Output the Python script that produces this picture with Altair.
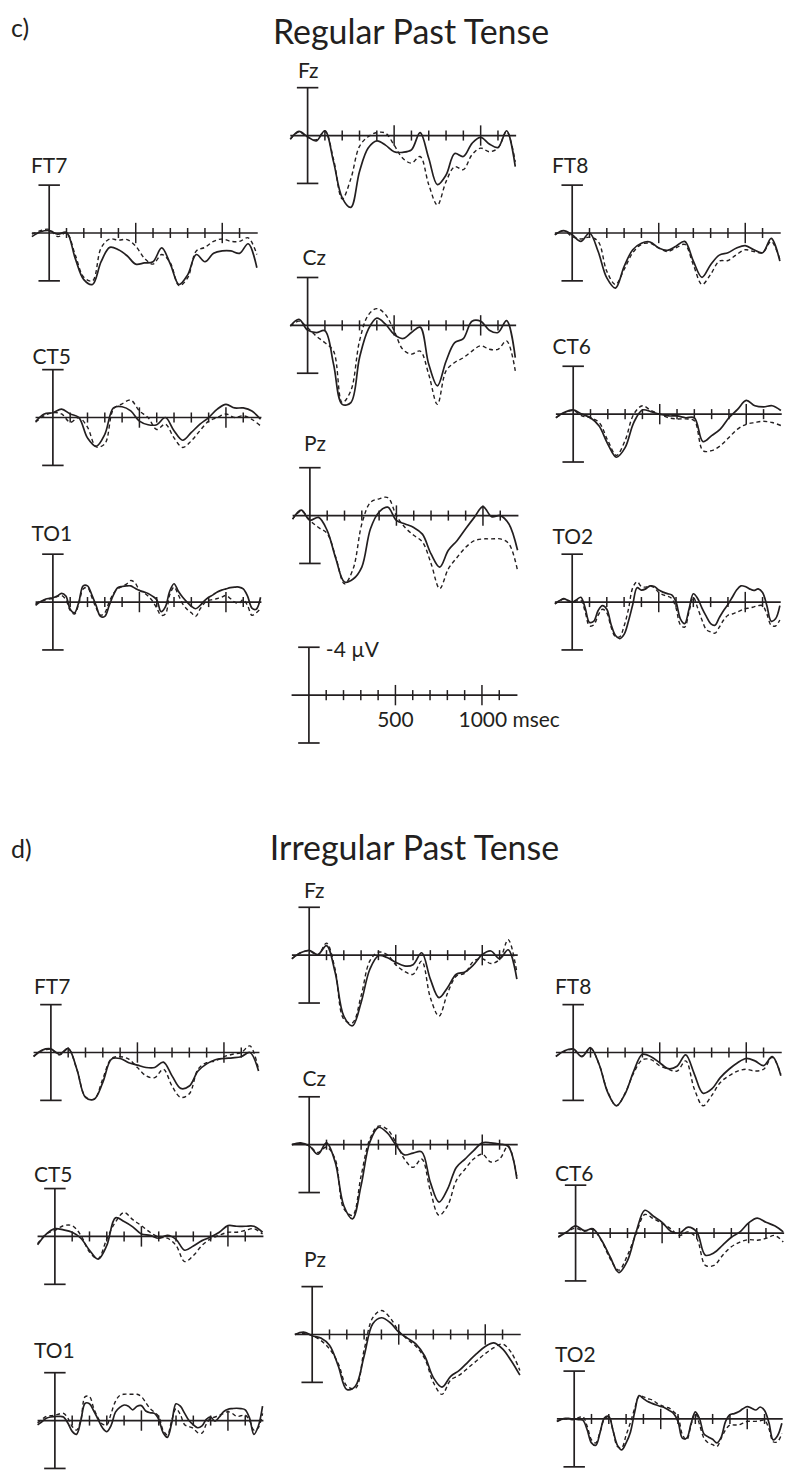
import altair as alt
import pandas as pd

# ---------------- data (µV, negative plotted upward) ----------------
TIMES = list(range(-100, 1201, 50))          # ms, 50-ms sample grid
TIMES_FINE = list(range(-100, 1201, 25))     # ms, 25-ms grid for the fast temporo-occipital channels
TICKS = list(range(100, 1101, 100))          # ms, axis ticks
MAJOR_TICKS = [500, 1000]

# c) Regular past tense  (A = solid line, B = dashed line)
REG_FZ_A = [0.3, -0.35, 0.1, 0.45, -0.4, 2.2, 5.2, 6.0, 3.0, 1.05, 0.45, 0.8, 1.35, 1.4, 1.2, -0.25, 1.9, 4.1, 3.3, 1.5, 1.75, 0.65, 0.15, 0.7, 1.0, -0.4, 2.6]
REG_FZ_B = [0.3, -0.3, 0.15, 0.35, -0.35, 2.0, 5.3, 3.6, 0.9, 0.1, -0.25, -0.2, 0.8, 1.9, 2.3, 1.75, 4.1, 5.8, 3.85, 2.6, 2.85, 1.6, 1.05, 1.35, 1.05, -0.35, 2.2]
REG_FT7_A = [0.3, -0.1, -0.2, 0.1, -0.05, 2.1, 3.9, 4.3, 2.4, 1.2, 1.4, 1.9, 2.6, 2.5, 2.4, 1.25, 2.6, 4.3, 3.5, 1.8, 2.4, 1.7, 1.5, 1.5, 1.7, 0.9, 2.9]
REG_FT7_B = [0.1, -0.2, -0.3, 0.3, 0.0, 1.8, 3.7, 4.0, 1.25, 0.5, 0.6, 0.55, 1.1, 2.1, 2.6, 1.8, 2.5, 4.4, 3.75, 1.5, 1.2, 0.7, 0.5, 0.7, 0.7, 0.4, 1.8]
REG_FT8_A = [0.15, -0.2, 0.15, 0.7, 0.0, 1.55, 3.75, 4.6, 2.8, 1.4, 0.85, 0.75, 1.25, 1.45, 1.1, 0.7, 2.35, 3.7, 2.65, 1.85, 1.65, 1.25, 1.05, 1.4, 1.65, 0.45, 2.35]
REG_FT8_B = [0.15, -0.2, 0.3, 0.5, 0.35, 0.7, 3.2, 4.3, 3.05, 1.65, 0.95, 0.85, 1.25, 1.55, 1.25, 0.95, 2.65, 4.3, 3.45, 2.35, 2.3, 1.8, 1.4, 1.55, 1.65, 0.7, 2.2]
REG_CZ_A = [0.05, -0.5, 0.4, 0.6, 0.45, 3.25, 6.6, 6.45, 2.7, 0.35, -0.6, -0.1, 0.75, 1.1, 0.6, 0.15, 3.25, 5.05, 3.0, 1.45, 1.1, -0.35, -0.35, 0.4, 0.6, -0.4, 2.7]
REG_CZ_B = [0.05, -0.35, 0.2, 0.9, 1.45, 2.15, 6.45, 5.45, 1.3, -0.85, -1.4, -0.9, 0.45, 2.0, 2.4, 2.15, 4.1, 6.6, 3.8, 3.1, 2.7, 2.15, 1.7, 2.0, 2.0, 1.3, 3.8]
REG_CT5_A = [0.33, -0.3, -0.4, -0.7, -0.3, 0.0, 1.7, 2.4, 1.4, -0.8, -0.9, -0.55, 0.3, 0.6, 0.6, 0.0, 1.1, 1.9, 1.25, 0.55, 0.0, -0.7, -1.1, -0.8, -0.8, -0.55, 0.15]
REG_CT5_B = [0.4, -0.15, -0.4, -0.3, 0.4, 0.0, 0.8, 2.45, 2.2, -0.7, -1.15, -1.45, -0.55, 0.0, 1.0, 0.55, 1.7, 2.5, 1.95, 1.1, 0.3, 0.0, -0.3, 0.0, -0.15, 0.15, 0.7]
REG_CT6_A = [0.3, -0.15, -0.35, 0.0, 0.3, 1.0, 2.5, 3.6, 2.8, 0.7, -0.35, -0.2, 0.0, 0.15, 0.15, 0.3, 0.3, 2.3, 1.8, 1.25, 0.3, -0.4, -1.15, -0.7, -0.6, -0.7, -0.3]
REG_CT6_B = [0.3, -0.1, -0.3, 0.15, 0.3, 0.7, 2.2, 3.45, 2.2, 0.0, -0.7, -0.3, 0.0, 0.3, 0.4, 0.4, 0.55, 3.05, 3.05, 2.65, 1.95, 1.25, 0.85, 0.7, 0.6, 0.7, 0.95]
REG_PZ_A = [0.3, -0.45, 0.4, 0.15, 1.25, 3.6, 5.55, 5.3, 4.3, 1.1, -0.3, -0.7, 0.4, 0.7, 1.0, 1.55, 3.2, 4.3, 2.9, 2.1, 1.1, 0.15, -0.75, 0.1, 0.0, 0.7, 2.9]
REG_PZ_B = [0.3, -0.4, 0.4, 1.0, 1.5, 3.5, 5.7, 4.45, 0.7, -1.1, -1.4, -1.5, 0.0, 1.0, 1.65, 2.2, 4.0, 6.1, 4.45, 3.5, 2.65, 2.1, 1.95, 1.95, 1.95, 2.35, 4.6]
# 25-ms grid
REG_TO1_A = [0.28, 0.0, -0.2, -0.3, -0.36, -0.5, -0.72, -0.5, 0.6, 0.9, 0.0, -1.35, -1.35, -0.6, 0.3, 1.2, 1.2, 0.3, -0.6, -1.2, -1.3, -1.35, -1.35, -1.15, -0.97, -0.85, -0.72, -0.5, -0.2, 0.8, 0.4, -0.9, -1.53, -0.9, -0.4, 0.0, 0.35, 0.56, 0.3, -0.1, -0.4, -0.6, -0.85, -1.0, -1.1, -1.2, -1.25, -1.25, -1.1, -0.5, 0.5, 0.6, -0.4]
REG_TO1_B = [0.15, -0.05, -0.15, -0.25, -0.3, -0.45, -0.55, -0.2, 0.7, 1.0, 0.1, -1.1, -1.2, -0.4, 0.5, 1.1, 0.9, 0.0, -0.7, -1.1, -1.3, -1.5, -1.8, -1.6, -1.0, -0.8, -0.5, -0.1, 0.5, 1.1, 1.0, -0.6, -1.25, -0.6, 0.15, 0.6, 0.9, 1.2, 0.6, 0.1, -0.15, -0.2, -0.3, -0.4, -0.55, -0.3, 0.0, 0.1, -0.2, 0.3, 1.1, 0.9, 0.55]
REG_TO2_A = [0.14, -0.1, -0.28, -0.15, 0.0, -0.2, -0.4, 0.5, 1.7, 1.6, 0.7, 0.3, 0.6, 1.9, 2.8, 3.05, 2.7, 1.6, 0.2, -1.2, -1.0, -1.1, -1.35, -1.3, -1.0, -0.83, -0.7, -0.6, 0.0, 1.4, 1.8, 0.6, -0.69, -0.3, 0.5, 1.2, 1.8, 1.94, 1.3, 0.7, 0.2, -0.4, -1.0, -1.35, -1.3, -1.1, -0.97, -1.1, -0.8, 0.3, 1.6, 1.4, 0.3]
REG_TO2_B = [0.15, -0.05, -0.25, -0.1, 0.0, -0.1, -0.15, 0.8, 2.0, 1.9, 1.1, 0.6, 0.9, 2.1, 2.9, 2.9, 2.0, 0.6, -1.2, -1.7, -1.3, -1.25, -1.35, -1.2, -0.8, -0.6, -0.5, -0.3, 0.5, 1.9, 2.1, 0.8, -0.4, 0.5, 1.5, 2.3, 2.5, 2.6, 2.1, 1.5, 1.1, 1.0, 0.85, 0.7, 0.55, 0.5, 0.4, 0.3, 0.3, 1.0, 1.95, 2.0, 1.5]

# d) Irregular past tense
IRR_FZ_A = [0.3, -0.2, -0.4, -0.05, -0.8, 1.45, 5.1, 5.9, 3.95, 1.2, 0.05, 0.2, 0.6, 0.9, 0.8, -0.2, 2.0, 3.55, 2.7, 1.6, 1.4, 0.8, -0.05, -0.35, 0.3, -0.45, 2.0]
IRR_FZ_B = [0.3, -0.2, -0.35, 0.0, -1.0, 1.2, 5.35, 5.65, 3.4, 0.5, -0.25, -0.05, 0.8, 1.35, 1.6, 0.5, 3.55, 5.1, 3.15, 1.75, 1.5, 0.5, 0.3, 0.7, 0.35, -1.3, 1.45]
IRR_FT7_A = [0.35, -0.2, -0.3, 0.15, -0.35, 1.4, 3.75, 3.9, 2.5, 0.55, 0.5, 0.85, 1.05, 1.25, 1.25, 0.8, 1.95, 3.0, 2.8, 1.55, 0.95, 0.6, 0.5, 0.45, 0.35, 0.0, 1.55]
IRR_FT7_B = [0.3, -0.15, -0.25, 0.2, -0.3, 1.4, 3.7, 3.9, 2.2, 0.5, 0.35, 0.55, 1.25, 1.95, 2.1, 1.4, 2.8, 3.75, 3.45, 1.4, 0.85, 0.7, 0.35, 0.15, 0.0, -0.55, 1.4]
IRR_FT8_A = [0.35, -0.15, -0.3, 0.35, -0.4, 1.0, 3.35, 4.45, 3.45, 1.55, 0.15, 0.35, 0.85, 1.35, 1.15, 0.2, 1.8, 3.4, 3.05, 2.1, 1.4, 0.85, 0.5, 0.7, 1.1, 0.35, 1.95]
IRR_FT8_B = [0.3, -0.1, -0.25, 0.3, -0.35, 1.0, 3.3, 4.45, 3.4, 1.7, 0.6, 0.6, 1.1, 1.4, 1.55, 0.7, 3.05, 4.45, 3.6, 2.5, 1.95, 1.55, 1.4, 1.55, 1.4, 0.4, 1.8]
IRR_CZ_A = [0.0, -0.15, 0.1, 0.8, -0.15, 1.45, 5.1, 6.2, 3.4, -0.2, -1.45, -1.0, 0.0, 0.85, 0.7, 0.6, 3.15, 4.8, 3.7, 1.9, 1.2, 0.5, -0.15, -0.15, -0.05, 0.15, 2.85]
IRR_CZ_B = [0.0, -0.1, 0.1, 0.65, 0.2, 1.2, 5.35, 5.9, 2.6, -0.45, -1.55, -1.3, -0.2, 1.2, 1.9, 1.2, 3.85, 5.9, 5.1, 3.0, 2.05, 1.2, 0.8, 1.45, 1.2, 0.1, 2.7]
IRR_CT5_A = [0.7, -0.2, -0.65, -0.55, -0.35, 0.15, 1.15, 1.9, 0.75, -1.55, -1.25, -0.8, -0.2, -0.1, 0.15, -0.1, 0.25, 1.15, 0.8, 0.35, 0.05, -0.35, -0.9, -0.85, -0.85, -0.85, -0.35]
IRR_CT5_B = [0.6, -0.2, -0.5, -0.9, -0.9, -0.1, 1.3, 1.85, 0.2, -1.2, -2.0, -1.4, -0.9, -0.35, 0.05, 0.15, 0.75, 2.1, 1.6, 0.75, 0.2, -0.1, -0.35, -0.35, -0.5, -0.65, -0.2]
IRR_CT6_A = [0.35, -0.1, -0.6, -0.2, -0.35, 0.6, 2.0, 3.3, 2.3, -0.1, -1.9, -1.4, -0.9, -0.15, 0.0, -0.5, -0.1, 1.85, 1.65, 1.0, 0.35, -0.1, -0.85, -1.25, -0.9, -0.6, -0.1]
IRR_CT6_B = [0.3, -0.1, -0.4, -0.15, -0.3, 0.65, 2.15, 3.1, 1.85, 0.05, -1.55, -1.2, -0.8, -0.35, 0.2, -0.1, 0.45, 2.7, 2.7, 1.85, 1.15, 0.75, 0.55, 0.6, 0.45, 0.2, 0.75]
IRR_PZ_A = [0.0, -0.2, 0.1, 0.3, 0.9, 2.6, 4.6, 4.3, 1.8, -0.9, -1.4, -1.0, -0.2, 0.3, 0.8, 1.8, 3.6, 4.4, 3.5, 3.0, 2.3, 1.6, 1.0, 0.7, 1.2, 2.2, 3.4]
IRR_PZ_B = [0.0, -0.1, 0.1, 0.5, 1.2, 2.4, 4.3, 4.5, 1.3, -1.4, -2.0, -1.4, -0.3, 0.4, 1.0, 2.0, 4.0, 5.0, 3.8, 3.4, 2.8, 2.2, 1.6, 1.1, 0.8, 1.5, 3.0]
# 25-ms grid
IRR_TO1_A = [0.36, 0.1, -0.19, -0.3, -0.33, -0.35, -0.3, 0.2, 0.9, 1.15, 0.0, -1.45, -1.4, -0.8, -0.1, 0.6, 0.92, 0.4, -0.7, -1.1, -1.3, -1.2, -0.9, -1.2, -1.25, -0.8, -0.65, -0.6, -0.1, 1.0, 1.4, 0.2, -1.4, -1.2, -0.6, 0.0, 0.35, 0.6, 0.45, -0.1, -0.3, 0.05, -0.3, -0.75, -0.95, -1.0, -1.03, -1.0, -0.9, -0.2, 1.15, 0.5, -1.2]
IRR_TO1_B = [0.2, -0.1, -0.35, -0.4, -0.45, -0.55, -0.6, -0.2, 0.5, 0.8, -0.05, -2.0, -2.0, -1.0, -0.2, 0.3, 0.35, -0.6, -1.6, -2.1, -2.2, -2.2, -2.2, -2.2, -2.0, -1.5, -1.0, -0.7, -0.35, 0.8, 1.2, 0.0, -1.0, -0.5, 0.35, 0.5, 0.65, 1.0, 1.05, 0.3, -0.2, -0.3, -0.45, -0.6, -0.75, -0.6, -0.35, -0.4, -0.45, 0.0, 0.8, 0.6, -0.6]
IRR_TO2_A = [0.22, 0.05, -0.06, -0.03, 0.0, 0.05, 0.1, 0.9, 2.0, 2.2, 1.1, -0.1, -0.2, 1.0, 2.2, 2.58, 2.0, 1.1, -0.61, -1.95, -1.7, -1.45, -1.3, -1.17, -1.05, -0.92, -0.7, -0.45, 0.2, 1.6, 1.6, 0.4, -0.6, 0.0, 1.25, 1.5, 1.7, 2.0, 1.5, 0.2, -0.35, -0.45, -0.6, -0.85, -1.03, -0.9, -0.75, -1.0, -0.7, 0.3, 1.75, 1.4, 0.36]
IRR_TO2_B = [0.2, 0.05, 0.0, 0.05, 0.05, -0.1, -0.2, 0.6, 1.75, 2.0, 1.05, 0.0, -0.2, 1.0, 2.3, 2.4, 1.35, 0.3, -0.9, -1.9, -1.85, -1.7, -1.6, -1.35, -1.15, -1.0, -0.9, -0.6, -0.2, 1.3, 1.75, 0.5, -0.5, 0.5, 1.6, 2.0, 2.15, 2.3, 1.6, 0.9, 0.5, 0.5, 0.5, 0.35, 0.2, 0.2, 0.2, 0.15, 0.1, 0.8, 1.9, 1.9, 1.2]

# ---------------- style / layout ----------------
INK = "#231f20"
FONT = "Lato"
PX_MS = 0.1735      # pixels per millisecond
PX_UV = 12.0        # pixels per microvolt
ORIGIN = 8.0        # page margin
FULL_W = 784.0
N_COLS = 3
CELL_W = FULL_W / N_COLS
HEADER_H = 42.0


class Grid:
    def __init__(self, top, height, rows):
        self.top = top
        self.rows = rows
        self.cell_h = height / rows

    def box(self, row, col):
        return ORIGIN + col * CELL_W, self.top + row * self.cell_h


def make_panel(grid, row, col, axis_x, base, label=None, label_xy=None,
               solid=None, dashed=None, times=TIMES, scale_bar=False):
    left, top = grid.box(row, col)
    h = grid.cell_h
    xdom = [(left - axis_x) / PX_MS, (left + CELL_W - axis_x) / PX_MS]
    ydom = [(top - base) / PX_UV, (top + h - base) / PX_UV]
    xsc = alt.Scale(domain=xdom, nice=False, zero=False)
    ysc = alt.Scale(domain=ydom, nice=False, zero=False, reverse=True)

    def X(f):
        return alt.X(f"{f}:Q", scale=xsc, axis=None)

    def Y(f):
        return alt.Y(f"{f}:Q", scale=ysc, axis=None)

    layers = []
    layers.append(alt.Chart(pd.DataFrame({"t0": [-100], "t1": [1205], "v": [0]}))
                  .mark_rule(color=INK, strokeWidth=1.7)
                  .encode(x=X("t0"), x2=alt.X2("t1"), y=Y("v")))
    layers.append(alt.Chart(pd.DataFrame({"t": [0], "v0": [-4], "v1": [4]}))
                  .mark_rule(color=INK, strokeWidth=1.7)
                  .encode(x=X("t"), y=Y("v0"), y2=alt.Y2("v1")))
    layers.append(alt.Chart(pd.DataFrame({"t0": [-62, -62], "t1": [62, 62], "v": [-4, 4]}))
                  .mark_rule(color=INK, strokeWidth=1.7)
                  .encode(x=X("t0"), x2=alt.X2("t1"), y=Y("v")))
    half = [0.85 if t in MAJOR_TICKS else 0.42 for t in TICKS]
    tick_df = pd.DataFrame({"t": TICKS, "v0": [-hh for hh in half], "v1": half})
    layers.append(alt.Chart(tick_df).mark_rule(color=INK, strokeWidth=1.5)
                  .encode(x=X("t"), y=Y("v0"), y2=alt.Y2("v1")))

    if dashed is not None:
        layers.append(alt.Chart(pd.DataFrame({"t": times, "v": dashed}))
                      .mark_line(color=INK, strokeWidth=1.4, strokeDash=[4, 3],
                                 interpolate="catmull-rom")
                      .encode(x=X("t"), y=Y("v")))
    if solid is not None:
        layers.append(alt.Chart(pd.DataFrame({"t": times, "v": solid}))
                      .mark_line(color=INK, strokeWidth=1.7, interpolate="catmull-rom")
                      .encode(x=X("t"), y=Y("v")))

    if label is not None:
        lx, ly = label_xy
        ldf = pd.DataFrame({"t": [(lx - axis_x) / PX_MS], "v": [(ly - base) / PX_UV], "s": [label]})
        layers.append(alt.Chart(ldf).mark_text(font=FONT, fontSize=21, color=INK,
                                               align="left", baseline="alphabetic")
                      .encode(x=X("t"), y=Y("v"), text="s:N"))

    if scale_bar:
        sdf = pd.DataFrame({"t": [(326 - axis_x) / PX_MS, (459 - axis_x) / PX_MS],
                            "v": [(656.5 - base) / PX_UV, (726.5 - base) / PX_UV],
                            "s": ["-4 µV", "1000 msec"]})
        layers.append(alt.Chart(sdf).mark_text(font=FONT, fontSize=21, color=INK,
                                               align="left", baseline="alphabetic")
                      .encode(x=X("t"), y=Y("v"), text="s:N"))
        cdf = pd.DataFrame({"t": [500], "v": [(726.5 - base) / PX_UV], "s": ["500"]})
        layers.append(alt.Chart(cdf).mark_text(font=FONT, fontSize=21, color=INK,
                                               align="center", baseline="alphabetic")
                      .encode(x=X("t"), y=Y("v"), text="s:N"))

    return alt.layer(*layers).properties(width=CELL_W, height=h)


def empty_cell(grid):
    return (alt.Chart(pd.DataFrame({"s": [""]})).mark_text()
            .encode(text="s:N").properties(width=CELL_W, height=grid.cell_h))


def header(top, tag, title, tag_y, title_x, title_y):
    t1 = (alt.Chart(pd.DataFrame({"s": [tag]}))
          .mark_text(font=FONT, fontSize=25, color=INK, align="left", baseline="alphabetic")
          .encode(text="s:N", x=alt.value(11 - ORIGIN), y=alt.value(tag_y - top)))
    t2 = (alt.Chart(pd.DataFrame({"s": [title]}))
          .mark_text(font=FONT, fontSize=34, color=INK, align="center", baseline="alphabetic")
          .encode(text="s:N", x=alt.value(title_x - ORIGIN), y=alt.value(title_y - top)))
    return alt.layer(t1, t2).properties(width=FULL_W, height=HEADER_H)


F = TIMES_FINE

# ---------- section c ----------
GC = Grid(top=ORIGIN + HEADER_H, height=780.0, rows=4)
cells_c = [
    make_panel(GC, 0, 0, 49.3, 231.7, "FT7", (31, 171.7), REG_FT7_A, REG_FT7_B),
    make_panel(GC, 0, 1, 307.7, 134.0, "Fz", (298, 76.7), REG_FZ_A, REG_FZ_B),
    make_panel(GC, 0, 2, 572.3, 231.7, "FT8", (552, 171.7), REG_FT8_A, REG_FT8_B),
    make_panel(GC, 1, 0, 53.0, 416.7, "CT5", (32.5, 363.3), REG_CT5_A, REG_CT5_B),
    make_panel(GC, 1, 1, 307.7, 324.3, "Cz", (302.5, 263.3), REG_CZ_A, REG_CZ_B),
    make_panel(GC, 1, 2, 573.3, 413.3, "CT6", (552.5, 353.3), REG_CT6_A, REG_CT6_B),
    make_panel(GC, 2, 0, 53.0, 601.7, "TO1", (31.5, 540.0), REG_TO1_A, REG_TO1_B, times=F),
    make_panel(GC, 2, 1, 310.0, 515.0, "Pz", (304, 450.0), REG_PZ_A, REG_PZ_B),
    make_panel(GC, 2, 2, 572.3, 601.7, "TO2", (552.5, 543.3), REG_TO2_A, REG_TO2_B, times=F),
    empty_cell(GC),
    make_panel(GC, 3, 1, 309.0, 695.0, scale_bar=True),
    empty_cell(GC),
]
grid_c = alt.concat(*cells_c, columns=N_COLS, spacing=0, bounds="flush", align="all")

# ---------- section d ----------
D_TOP = GC.top + 780.0 + HEADER_H
GD = Grid(top=D_TOP, height=603.0, rows=3)
cells_d = [
    make_panel(GD, 0, 0, 51.0, 1053.3, "FT7", (34, 995.0), IRR_FT7_A, IRR_FT7_B),
    make_panel(GD, 0, 1, 309.3, 955.7, "Fz", (304, 898.3), IRR_FZ_A, IRR_FZ_B),
    make_panel(GD, 0, 2, 573.3, 1053.3, "FT8", (555, 995.0), IRR_FT8_A, IRR_FT8_B),
    make_panel(GD, 1, 0, 55.0, 1237.7, "CT5", (34, 1183.3), IRR_CT5_A, IRR_CT5_B),
    make_panel(GD, 1, 1, 309.3, 1145.7, "Cz", (302.5, 1086.7), IRR_CZ_A, IRR_CZ_B),
    make_panel(GD, 1, 2, 575.7, 1234.3, "CT6", (555, 1181.7), IRR_CT6_A, IRR_CT6_B),
    make_panel(GD, 2, 0, 55.0, 1422.3, "TO1", (34, 1360.0), IRR_TO1_A, IRR_TO1_B, times=F),
    make_panel(GD, 2, 1, 312.3, 1336.0, "Pz", (304, 1268.0), IRR_PZ_A, IRR_PZ_B),
    make_panel(GD, 2, 2, 574.3, 1420.7, "TO2", (555, 1363.3), IRR_TO2_A, IRR_TO2_B, times=F),
]
grid_d = alt.concat(*cells_d, columns=N_COLS, spacing=0, bounds="flush", align="all")

hdr_c = header(ORIGIN, "c)", "Regular Past Tense", 35, 412, 42)
hdr_d = header(D_TOP - HEADER_H, "d)", "Irregular Past Tense", 858, 415.5, 860)

chart = (alt.vconcat(hdr_c, grid_c, hdr_d, grid_d, spacing=0)
         .properties(padding=0, background="white")
         .configure_view(stroke=None))

chart.save("out.html", embed_options={"renderer": "svg", "actions": False})
